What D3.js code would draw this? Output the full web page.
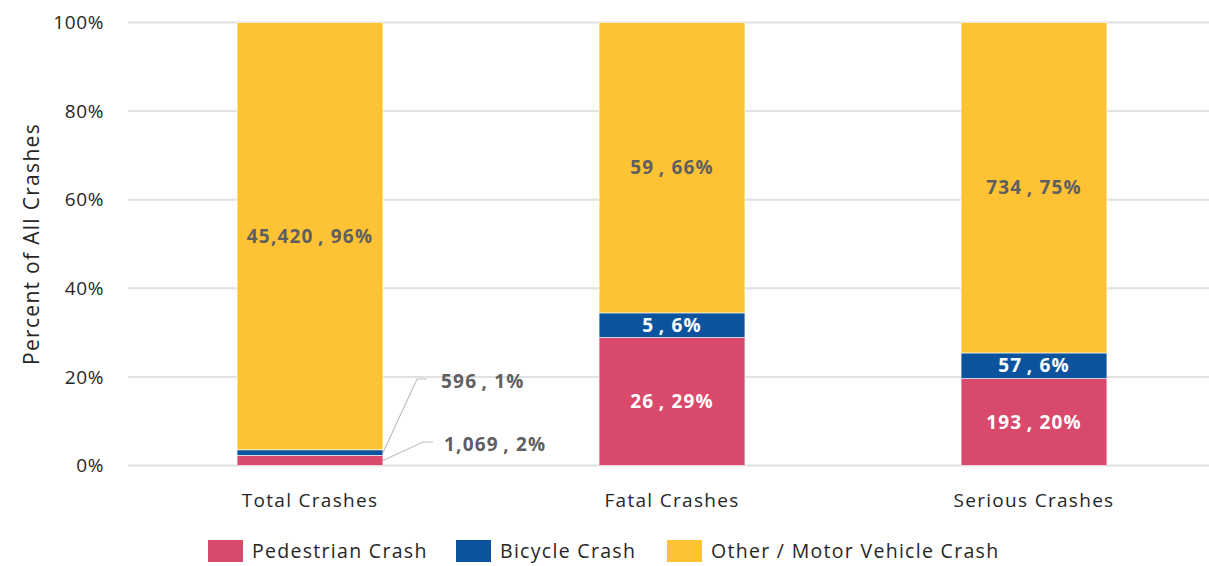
<!DOCTYPE html>
<html>
<head>
  <meta charset="utf-8">
  <script src="https://d3js.org/d3.v7.min.js"></script>
  <style type="text/css">
    body { margin: 0; background: #fff; }
    svg text { font-family: "Open Sans", sans-serif; }
    .tick-label { font-size: 19px; fill: #262626; letter-spacing: 1.3px; }
    .y-tick { letter-spacing: 0.6px; }
    .axis-title { font-size: 21px; fill: #262626; letter-spacing: 1.3px; }
    .bar-label { font-size: 19px; font-weight: 700; letter-spacing: 1.2px; }
    .legend-text { font-size: 19.5px; fill: #262626; letter-spacing: 1.3px; }
  </style>
</head>
<body>
  <script type="text/javascript">
    // data
    var categories = ['Total Crashes', 'Fatal Crashes', 'Serious Crashes'];
    var seriesNames = ['Pedestrian Crash', 'Bicycle Crash', 'Other / Motor Vehicle Crash'];
    var pedestrian = [1069, 26, 193];
    var bicycle = [596, 5, 57];
    var other = [45420, 59, 734];
    var yTicks = [0, 0.2, 0.4, 0.6, 0.8, 1];
    var colors = ['#D9496B', '#0B549D', '#FDC334'];
    var labelColors = ['#ffffff', '#ffffff', '#5f5f5f'];

    var width = 1209, height = 566;
    var plotLeft = 129, plotRight = 1215, plotTop = 22.5, plotBottom = 465.5;

    var svg = d3.select('body').append('svg')
        .attr('width', width)
        .attr('height', height);

    var x = d3.scaleBand().domain(categories).range([plotLeft, plotRight]).paddingInner(0.597).paddingOuter(0.2985);
    var y = d3.scaleLinear().domain([0, 1]).range([plotBottom, plotTop]);

    // build stacked table
    var rows = categories.map(function(c, i) {
      var total = pedestrian[i] + bicycle[i] + other[i];
      return { cat: c, vals: [pedestrian[i], bicycle[i], other[i]], total: total,
        s0: pedestrian[i] / total, s1: bicycle[i] / total, s2: other[i] / total };
    });
    var stack = d3.stack().keys(['s0', 's1', 's2'])(rows);

    // gridlines
    svg.append('g').selectAll('line')
      .data(yTicks).enter().append('line')
        .attr('x1', 128).attr('x2', width)
        .attr('y1', function(d) { return y(d); })
        .attr('y2', function(d) { return y(d); })
        .attr('stroke', '#e0e1e1')
        .attr('stroke-width', 2);

    // y tick labels
    svg.append('g').selectAll('text')
      .data(yTicks).enter().append('text')
        .attr('class', 'tick-label y-tick')
        .attr('x', 104)
        .attr('y', function(d) { return y(d); })
        .attr('dy', '0.35em')
        .attr('text-anchor', 'end')
        .text(function(d) { return d3.format('.0%')(d); });

    // y axis title
    svg.append('text')
      .attr('class', 'axis-title')
      .attr('transform', 'translate(39,' + ((plotTop + plotBottom) / 2) + ') rotate(-90)')
      .attr('text-anchor', 'middle')
      .text('Percent of All Crashes');

    // bars
    var layers = svg.append('g').selectAll('g')
      .data(stack).enter().append('g')
        .attr('fill', function(d, i) { return colors[i]; });

    layers.selectAll('rect')
      .data(function(d) { return d; }).enter().append('rect')
        .attr('x', function(d) { return x(d.data.cat); })
        .attr('width', x.bandwidth())
        .attr('y', function(d) { return y(d[1]); })
        .attr('height', function(d) { return y(d[0]) - y(d[1]); })
        .attr('stroke', '#ffffff')
        .attr('stroke-width', 0.6);

    function labelText(v, p) {
      return d3.format(',')(v) + '\u2009, ' + Math.round(p * 100) + '%';
    }

    // data labels
    stack.forEach(function(layer, si) {
      layer.forEach(function(d, ci) {
        var v = d.data.vals[si];
        var p = d[1] - d[0];
        var cx = x(d.data.cat) + x.bandwidth() / 2;
        var cy = (y(d[0]) + y(d[1])) / 2;
        var t = svg.append('text')
          .attr('class', 'bar-label')
          .attr('dy', '0.35em')
          .text(labelText(v, p));
        if (p < 0.03) {
          // small slice: label outside with leader line
          var ly = si === 0 ? 442 : 379;
          var x0 = x(d.data.cat) + x.bandwidth();
          var elbow = si === 0 ? 423 : 417;
          svg.append('polyline')
            .attr('points', [[x0, cy], [elbow, ly], [elbow + 10, ly]].map(function(q) { return q.join(','); }).join(' '))
            .attr('fill', 'none')
            .attr('stroke', '#bfbfbf')
            .attr('stroke-width', 1.2);
          t.attr('x', si === 0 ? 444 : 441).attr('y', ly + 2)
            .attr('text-anchor', 'start')
            .attr('fill', '#5f5f5f');
        } else {
          t.attr('x', cx).attr('y', cy)
            .attr('text-anchor', 'middle')
            .attr('fill', labelColors[si]);
        }
      });
    });

    // category labels
    svg.append('g').selectAll('text')
      .data(categories).enter().append('text')
        .attr('class', 'tick-label')
        .attr('x', function(d) { return x(d) + x.bandwidth() / 2; })
        .attr('y', 500)
        .attr('dy', '0.35em')
        .attr('text-anchor', 'middle')
        .text(function(d) { return d; });

    // legend
    var legendX = [208, 456, 667];
    var legend = svg.append('g').selectAll('g')
      .data(seriesNames).enter().append('g')
        .attr('transform', function(d, i) { return 'translate(' + legendX[i] + ',540)'; });
    legend.append('rect')
      .attr('width', 35).attr('height', 22)
      .attr('fill', function(d, i) { return colors[i]; });
    legend.append('text')
      .attr('class', 'legend-text')
      .attr('x', 44).attr('y', 11)
      .attr('dy', '0.35em')
      .text(function(d) { return d; });
  </script>
</body>
</html>
